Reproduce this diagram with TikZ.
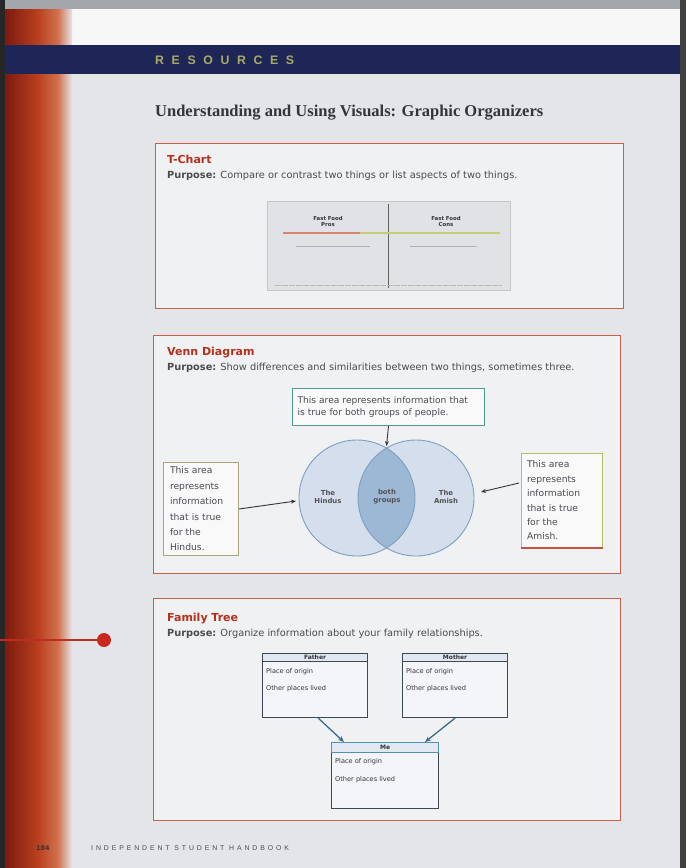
\documentclass[tikz,border=0pt]{standalone}
\usepackage{fontspec}
\setmainfont{DejaVu Sans}
\newfontfamily\titlefont{Liberation Serif}
\newfontfamily\spacedfont[LetterSpace=62]{Liberation Sans}
\newfontfamily\footfont[LetterSpace=42]{Liberation Sans}
\usetikzlibrary{arrows.meta,calc}
\definecolor{pagebg}{HTML}{E3E5E8}
\definecolor{topgray}{HTML}{A3A7AC}
\definecolor{navy}{HTML}{1E2658}
\definecolor{olive}{HTML}{A9AA62}
\definecolor{redA}{HTML}{7E1A0E}
\definecolor{redB}{HTML}{B8401F}
\definecolor{redC}{HTML}{D27250}
\definecolor{boxred}{HTML}{C8604A}
\definecolor{boxfill}{HTML}{EFF1F3}
\definecolor{headred}{HTML}{B5301C}
\definecolor{titlegray}{HTML}{333538}
\definecolor{txt}{HTML}{4A4C50}
\definecolor{circfill}{HTML}{D4DEEC}
\definecolor{lensfill}{HTML}{9CB8D4}
\definecolor{circline}{HTML}{7E9FBF}
\definecolor{teal}{HTML}{4E9C8C}
\definecolor{sideline}{HTML}{A9A77A}
\definecolor{sidegreen}{HTML}{B3C25E}
\definecolor{famline}{HTML}{3E4852}
\definecolor{famhdr}{HTML}{E2E8F2}
\definecolor{famfill}{HTML}{F3F5F8}
\definecolor{metop}{HTML}{4D93AE}
\definecolor{conn}{HTML}{3D6A86}
\definecolor{tcfill}{HTML}{E0E2E5}
\definecolor{tcred}{HTML}{D68470}
\definecolor{tcgreen}{HTML}{C8CE70}
\definecolor{sidered}{HTML}{C85046}
\definecolor{dotred}{HTML}{C8281E}
\definecolor{linered}{HTML}{BE2D1E}
\begin{document}
\begin{tikzpicture}[x=1pt,y=-1pt,
  secbox/.style={draw=boxred, line width=1.4pt, fill=boxfill, anchor=north west, inner sep=0pt},
  sechead/.style={anchor=west, text=headred, font=\fontsize{11}{12}\selectfont\bfseries, inner sep=0pt},
  purpose/.style={anchor=west, text=txt, font=\fontsize{9.8}{11}\selectfont, inner sep=0pt},
  callout/.style={draw=#1, line width=1pt, fill=white!60!boxfill, anchor=north west, inner sep=0pt, align=left, text=txt},
  vcirc/.style={circle, minimum size=116pt, inner sep=0pt, fill=circfill},
  vtext/.style={font=\fontsize{6.9}{8}\selectfont\bfseries, text=titlegray!85, align=center, inner sep=0pt},
  arr/.style={-{Stealth[length=5pt,width=4pt]}, line width=0.9pt, draw=titlegray},
  fambox/.style={draw=#1, line width=1.1pt, fill=famfill, anchor=north west, minimum width=105pt, minimum height=64pt, inner sep=0pt},
  famhead/.style={draw=#1, line width=0.8pt, fill=famhdr, anchor=north, minimum width=105pt, minimum height=8pt, inner sep=0pt, font=\fontsize{6}{7}\selectfont\bfseries, text=titlegray},
  famtxt/.style={anchor=west, inner sep=0pt, font=\fontsize{6.6}{7}\selectfont, text=titlegray},
  famarr/.style={-{Stealth[length=6pt,width=5pt]}, line width=1.3pt, draw=conn}
]
\useasboundingbox (0,0) rectangle (686,868);
% page
\fill[pagebg] (0,0) rectangle (686,868);
\fill[topgray] (0,0) rectangle (686,9);
\fill[white!94!gray] (60,9) rectangle (680,45);
\fill[black!75] (680,0) rectangle (686,868);
% red strip
\fill[black!85] (0,0) rectangle (5,868);
\shade[left color=redA, right color=redB] (5,9) rectangle (38,868);
\shade[left color=redB, right color=redC] (38,9) rectangle (58,868);
\shade[left color=redC, right color=pagebg] (58,9) rectangle (72,868);
% header band
\fill[navy] (5,45) rectangle (680,74);
\node[anchor=west, inner sep=0pt, text=olive, font=\spacedfont\bfseries\fontsize{12.3}{13}\selectfont] (res) at (155,60) {RESOURCES};
\node[anchor=west, inner sep=0pt, text=titlegray, font=\titlefont\bfseries\fontsize{16.5}{18}\selectfont] (title) at (155,113) {Understanding and Using Visuals: Graphic Organizers};

% ---------- T-Chart
\node[secbox, minimum width=468pt, minimum height=165pt] (tbox) at (155,143) {};
\node[sechead] (th) at (167,159) {T-Chart};
\node[purpose] (tp) at (167,176) {\textbf{Purpose:} Compare or contrast two things or list aspects of two things.};
\node[draw=gray!45, fill=tcfill, anchor=north west, minimum width=243pt, minimum height=89pt, inner sep=0pt] (tc) at (267,201) {};
\draw[gray!75!black, line width=0.7pt] (388,204) -- (388,288);
\draw[tcred, line width=1.1pt] (283,233) -- (360,233);
\draw[tcgreen, line width=1.1pt] (360,233) -- (500,233);
\node[font=\fontsize{5.4}{6}\selectfont\bfseries, text=titlegray, align=center, inner sep=0pt] (tl) at (328,221) {Fast Food\\Pros};
\node[font=\fontsize{5.4}{6}\selectfont\bfseries, text=titlegray, align=center, inner sep=0pt] (tr) at (446,221) {Fast Food\\Cons};
\draw[gray!60, line width=0.8pt] (296,246) -- (370,246);
\draw[gray!60, line width=0.8pt] (410,246) -- (477,246);
\draw[gray!55, line width=0.8pt, dash pattern=on 6pt off 1pt] (275,285) -- (502,285);

% ---------- Venn
\node[secbox, minimum width=467pt, minimum height=238pt] (vbox) at (153,335) {};
\node[sechead] (vh) at (167,353) {Venn Diagram};
\node[purpose] (vp) at (167,368) {\textbf{Purpose:} Show differences and similarities between two things, sometimes three.};
\node[callout=teal, minimum width=192pt, minimum height=37pt, text width=190pt, font=\fontsize{9.1}{12}\selectfont] (vtop) at (292,388) {\hspace*{4pt}This area represents information that\\\hspace*{4pt}is true for both groups of people.};
\node[vcirc] (lc) at (357,498) {};
\node[vcirc] (rc) at (416,498) {};
\begin{scope}
  \clip (357,498) circle[radius=58];
  \fill[lensfill] (416,498) circle[radius=58];
\end{scope}
\draw[circline, line width=0.9pt] (357,498) circle[radius=58];
\draw[circline, line width=0.9pt] (416,498) circle[radius=58];
\node[vtext] (lt) at (328,497) {The\\Hindus};
\node[vtext] (mt) at (387,497) {both\\groups};
\node[vtext] (rt) at (446,497) {The\\Amish};
\coordinate (lens) at (386.5,446);
\draw[arr] (vtop.south) -- (lens);
\node[callout=sideline, minimum width=75pt, minimum height=93pt, text width=74pt, font=\fontsize{9.2}{15.4}\selectfont] (vl) at (163,462) {\hspace*{6pt}This area\\\hspace*{6pt}represents\\\hspace*{6pt}information\\\hspace*{6pt}that is true\\\hspace*{6pt}for the\\\hspace*{6pt}Hindus.};
\node[callout=sidegreen, minimum width=81pt, minimum height=94pt, text width=80pt, font=\fontsize{9.2}{14.4}\selectfont] (vr) at (521,453) {\hspace*{5pt}This area\\\hspace*{5pt}represents\\\hspace*{5pt}information\\\hspace*{5pt}that is true\\\hspace*{5pt}for the\\\hspace*{5pt}Amish.};
\draw[sidered, line width=1.2pt] (vr.south west) -- (vr.south east);
\coordinate (lcw) at (296,501);
\coordinate (vra) at (519,483);
\coordinate (rce) at (481,492);
\draw[arr] (vl.east) -- (lcw);
\draw[arr] (vra) -- (rce);

% ---------- Family tree
\node[secbox, minimum width=467pt, minimum height=222pt] (fbox) at (153,598) {};
\node[sechead] (fh) at (167,618) {Family Tree};
\node[purpose] (fp) at (167,634) {\textbf{Purpose:} Organize information about your family relationships.};
\node[fambox=famline] (fa) at (262,653) {};
\node[famhead=famline] (fah) at (fa.north) {Father};
\node[famtxt] (fa1) at ($(fa.north west)+(4,19)$) {Place of origin};
\node[famtxt] (fa2) at ($(fa.north west)+(4,36)$) {Other places lived};
\node[fambox=famline] (mo) at (402,653) {};
\node[famhead=famline] (moh) at (mo.north) {Mother};
\node[famtxt] (mo1) at ($(mo.north west)+(4,19)$) {Place of origin};
\node[famtxt] (mo2) at ($(mo.north west)+(4,36)$) {Other places lived};
\node[fambox=famline, minimum width=107pt, minimum height=66pt] (me) at (331,742) {};
\node[famhead=metop, minimum width=107pt, minimum height=10pt] (meh) at (me.north) {Me};
\node[famtxt] (me1) at ($(me.north west)+(4,20)$) {Place of origin};
\node[famtxt] (me2) at ($(me.north west)+(4,38)$) {Other places lived};
\draw[famarr] ($(fa.south west)!0.53!(fa.south east)$) -- ($(me.north west)!0.12!(me.north east)$);
\draw[famarr] (mo.south) -- ($(me.north west)!0.87!(me.north east)$);

% ---------- red pointer
\node[circle, fill=dotred, minimum size=14pt, inner sep=0pt] (dot) at (104,640) {};
\coordinate (pl) at (0,640);
\draw[linered, line width=1.4pt] (pl) -- (dot);

% ---------- footer
\node[anchor=west, inner sep=0pt, font=\fontsize{6.5}{7}\selectfont\bfseries, text=titlegray] (pg) at (36,848) {184};
\node[anchor=west, inner sep=0pt, font=\footfont\fontsize{6.9}{7}\selectfont, text=txt] (ft) at (91,848) {INDEPENDENT STUDENT HANDBOOK};
\end{tikzpicture}
\end{document}
